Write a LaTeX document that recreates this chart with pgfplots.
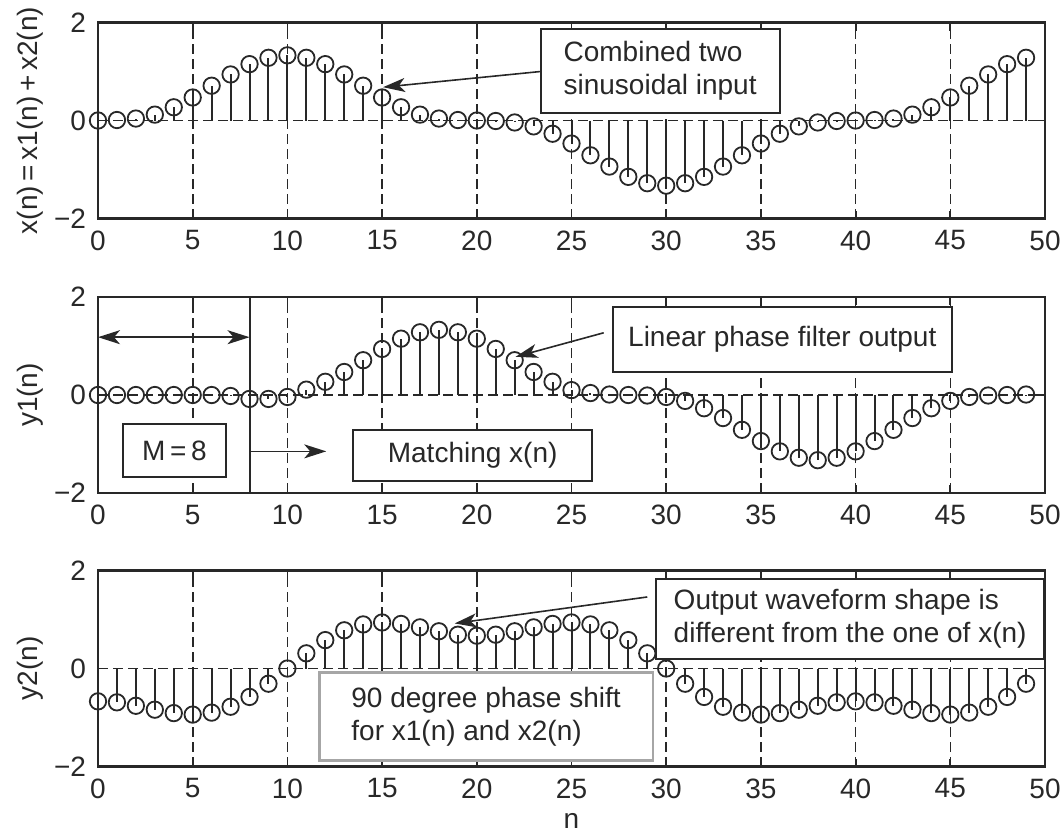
\documentclass[border=0pt]{standalone}
\usepackage{fontspec}
\setmainfont{Liberation Sans}
\usepackage{pgfplots}
\pgfplotsset{compat=1.18}
\usetikzlibrary{arrows.meta}
\definecolor{ink}{HTML}{282828}

\pgfplotsset{
  stemax/.style={
    width=473.5pt, height=98pt, scale only axis,
    anchor=south west,
    xmin=0, xmax=50, ymin=-2, ymax=2,
    xtick={0,5,...,50}, ytick={-2,0,2}, yticklabels={−2,0,2},
    grid=major,
    major grid style={ink, line width=0.8pt, dash pattern=on 5pt off 2.5pt},
    axis line style={ink, line width=1.1pt},
    tick style={ink, line width=0.9pt},
    major tick length=4pt,
    tick align=inside,
    tick label style={font=\fontsize{14}{16}\selectfont, text=ink},
    label style={font=\fontsize{14}{16}\selectfont, text=ink},
    /pgf/number format/assume math mode=true,
    xticklabel style={yshift=-2.5pt},
    yticklabel style={xshift=-2.5pt},
    ylabel style={at={(axis description cs:-0.072,0.5)}, anchor=center},
    xlabel style={yshift=-0.5pt},
    clip=false,
  },
  stem/.style={ycomb, ink, line width=1pt, mark=o, mark size=4.1pt,
    mark options={line width=0.9pt}},
}
\tikzset{
  box/.style={draw=ink, line width=1pt, fill=white},
  txt/.style={align=left, text=ink, font=\fontsize{14}{16.5}\selectfont},
  arr/.style={ink, line width=0.8pt, -{Stealth[length=11pt,width=7pt,inset=3pt]}},
}

\begin{document}
\begin{tikzpicture}

% x(n) = x1(n) + x2(n)
\begin{axis}[stemax, at={(49pt,-109.25pt)}, ylabel={x(n)\,=\,x1(n)\,+\,x2(n)}]
  \draw[box] (23.37,0.16) rectangle (36.0,1.86);
  \node[txt] at (29.68,1.01) {Combined two\\sinusoidal input};
  \draw[arr] (23.37,1.0) -- (15.05,0.68);
  \addplot[stem] coordinates {
    (0,0.00) (1,0.01) (2,0.04) (3,0.12) (4,0.27) (5,0.47) (6,0.71) (7,0.94)
    (8,1.15) (9,1.28) (10,1.33) (11,1.28) (12,1.15) (13,0.94) (14,0.71)
    (15,0.47) (16,0.27) (17,0.12) (18,0.04) (19,0.01) (20,0.00) (21,-0.01)
    (22,-0.04) (23,-0.12) (24,-0.27) (25,-0.47) (26,-0.71) (27,-0.94)
    (28,-1.15) (29,-1.28) (30,-1.33) (31,-1.28) (32,-1.15) (33,-0.94)
    (34,-0.71) (35,-0.47) (36,-0.27) (37,-0.12) (38,-0.04) (39,-0.01)
    (40,0.00) (41,0.01) (42,0.04) (43,0.12) (44,0.27) (45,0.47) (46,0.71)
    (47,0.94) (48,1.15) (49,1.28)
  };
\end{axis}

% y1(n): linear phase filter
\begin{axis}[stemax, at={(49pt,-246.5pt)}, ylabel={y1(n)}]
  \draw[ink, line width=1pt] (8,-2) -- (8,2);
  \draw[ink, line width=0.8pt, {Stealth[length=11pt,width=7pt,inset=3pt]}-{Stealth[length=11pt,width=7pt,inset=3pt]}] (0,1.18) -- (8,1.18);
  \draw[box] (1.34,-0.6) rectangle (6.74,-1.67);
  \node[txt] at (4.04,-1.135) {M\,=\,8};
  \draw[arr] (8,-1.15) -- (12.05,-1.15);
  \draw[box] (13.46,-0.71) rectangle (26.1,-1.75);
  \node[txt] at (19.78,-1.23) {Matching x(n)};
  \draw[box] (27.2,0.47) rectangle (45.07,1.79);
  \node[txt] at (36.13,1.13) {Linear phase filter output};
  \draw[arr] (26.7,1.27) -- (22.05,0.78);
  \addplot[stem] coordinates {
    (0,0.00) (1,0.00) (2,0.00) (3,0.00) (4,0.00) (5,0.00) (6,0.00) (7,-0.02)
    (8,-0.08) (9,-0.08) (10,-0.04) (11,0.11) (12,0.27) (13,0.47) (14,0.71)
    (15,0.94) (16,1.15) (17,1.28) (18,1.33) (19,1.28) (20,1.15) (21,0.94)
    (22,0.71) (23,0.47) (24,0.27) (25,0.10) (26,0.04) (27,0.01) (28,0.00)
    (29,-0.01) (30,-0.04) (31,-0.12) (32,-0.27) (33,-0.47) (34,-0.71)
    (35,-0.94) (36,-1.15) (37,-1.28) (38,-1.33) (39,-1.28) (40,-1.15)
    (41,-0.94) (42,-0.71) (43,-0.47) (44,-0.27) (45,-0.12) (46,-0.04)
    (47,-0.01) (48,0.00) (49,0.01)
  };
\end{axis}

% y2(n): 90 degree phase shift
\begin{axis}[stemax, at={(49pt,-383.25pt)}, ylabel={y2(n)}, xlabel={n}]
  \draw[draw=gray!70, line width=1.4pt, fill=white] (11.68,-0.08) rectangle (29.3,-1.88);
  \node[txt] at (20.49,-0.98) {90 degree phase shift\\for x1(n) and x2(n)};
  \draw[box] (29.48,0.2) rectangle (49.94,1.83);
  \node[txt] at (39.71,1.015) {Output waveform shape is\\different from the one of x(n)};
  \draw[arr] (29.0,1.46) -- (18.83,0.92);
  \addplot[stem] coordinates {
    (0,-0.67) (1,-0.69) (2,-0.76) (3,-0.84) (4,-0.91) (5,-0.94) (6,-0.90)
    (7,-0.78) (8,-0.58) (9,-0.31) (10,0.00) (11,0.31) (12,0.58) (13,0.78)
    (14,0.90) (15,0.94) (16,0.91) (17,0.84) (18,0.76) (19,0.69) (20,0.67)
    (21,0.69) (22,0.76) (23,0.84) (24,0.91) (25,0.94) (26,0.90) (27,0.78)
    (28,0.58) (29,0.31) (30,0.00) (31,-0.31) (32,-0.58) (33,-0.78)
    (34,-0.90) (35,-0.94) (36,-0.91) (37,-0.84) (38,-0.76) (39,-0.69)
    (40,-0.67) (41,-0.69) (42,-0.76) (43,-0.84) (44,-0.91) (45,-0.94)
    (46,-0.90) (47,-0.78) (48,-0.58) (49,-0.31)
  };
\end{axis}

\pgfresetboundingbox
\useasboundingbox (0,0) rectangle (531.5pt,-418pt);
\end{tikzpicture}
\end{document}
